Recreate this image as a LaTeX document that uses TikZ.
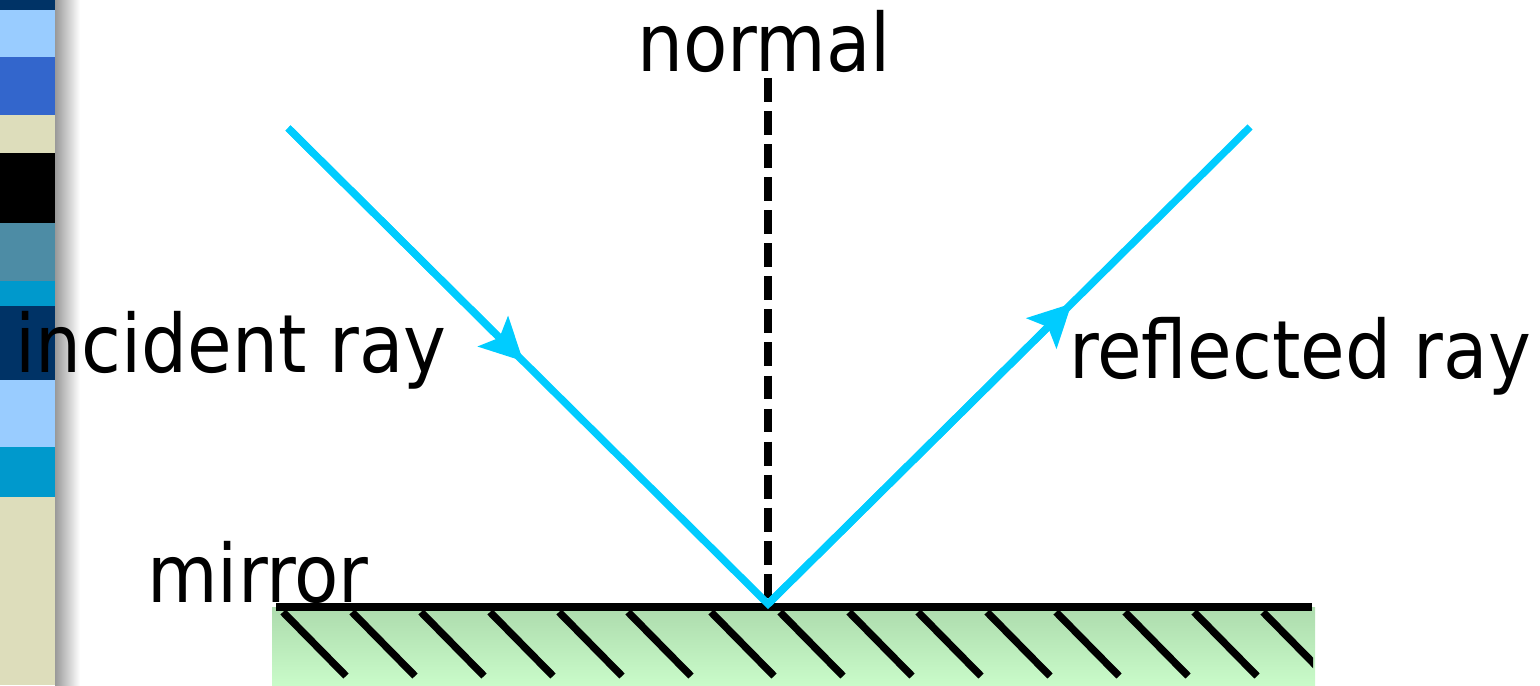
\documentclass[tikz,border=0pt]{standalone}
\usepackage{fontspec}
\setmainfont{DejaVu Sans Condensed}
\usetikzlibrary{arrows.meta,calc}
\definecolor{raycol}{HTML}{00CCFF}
\definecolor{navy}{HTML}{003366}
\definecolor{paleblue}{HTML}{99CCFF}
\definecolor{midblue}{HTML}{3366CC}
\definecolor{beige}{HTML}{DDDDBB}
\definecolor{steel}{HTML}{4D8CA5}
\definecolor{seablue}{HTML}{0099CC}
\definecolor{glasstop}{HTML}{ADDBAD}
\definecolor{glassbot}{HTML}{C9FBC9}
\tikzset{
  ray/.style={raycol,line width=2.1pt},
  raytip/.style={raycol,line width=2.1pt,-{Stealth[length=12pt,width=12pt,inset=2.5pt]}},
  label/.style={inner sep=0pt,anchor=base}
}
\begin{document}
\begin{tikzpicture}[x=0.01cm,y=-0.01cm,font=\fontsize{22.9pt}{26pt}\selectfont]
	\useasboundingbox (0,0) rectangle (1540,685);
	% side strip of the slide
	\foreach \a/\b/\c in {0/10/navy,10/57/paleblue,57/115/midblue,115/153/beige,153/223/black,223/281/steel,281/306/seablue,306/380/navy,380/447/paleblue,447/497/seablue,497/685/beige}
		\fill[\c] (0,\a) rectangle (55,\b);
	\shade[left color=black!40,right color=white] (55,0) rectangle (80,685);
	% mirror
	\shade[top color=glasstop,bottom color=glassbot] (272,607) rectangle (1315,685);
	\begin{scope}
		\clip (272,607) rectangle (1313,685);
		\foreach \x in {283,352,421,490,559,628,711,780,849,918,987,1056,1125,1194,1263}
			\draw[line width=2.1pt] (\x,612) -- ++(63,64);
	\end{scope}
	\coordinate (src) at (288,128);
	\coordinate (hit) at (768,604);
	\coordinate (out) at (1250,127);
	\coordinate (top) at (768,78);
	\draw[line width=2.3pt] (276,607) -- (1312,607);
	\draw[line width=2.1pt,dash pattern=on 6.8pt off 2.6pt] (top) -- (hit);
	\draw[ray] (src) -- (hit) -- (out);
	\draw[raytip] (src) -- ($(src)!0.49!(hit)$);
	\draw[raytip] (hit) -- ($(hit)!0.63!(out)$);
	\node[label] (nrm) at (764,72) {normal};
	\node[label] (inc) at (231,372) {incident ray};
	\node[label] (ref) at (1300,378) {reflected ray};
	\node[label] (mir) at (258,602) {mirror};
\end{tikzpicture}
\end{document}
